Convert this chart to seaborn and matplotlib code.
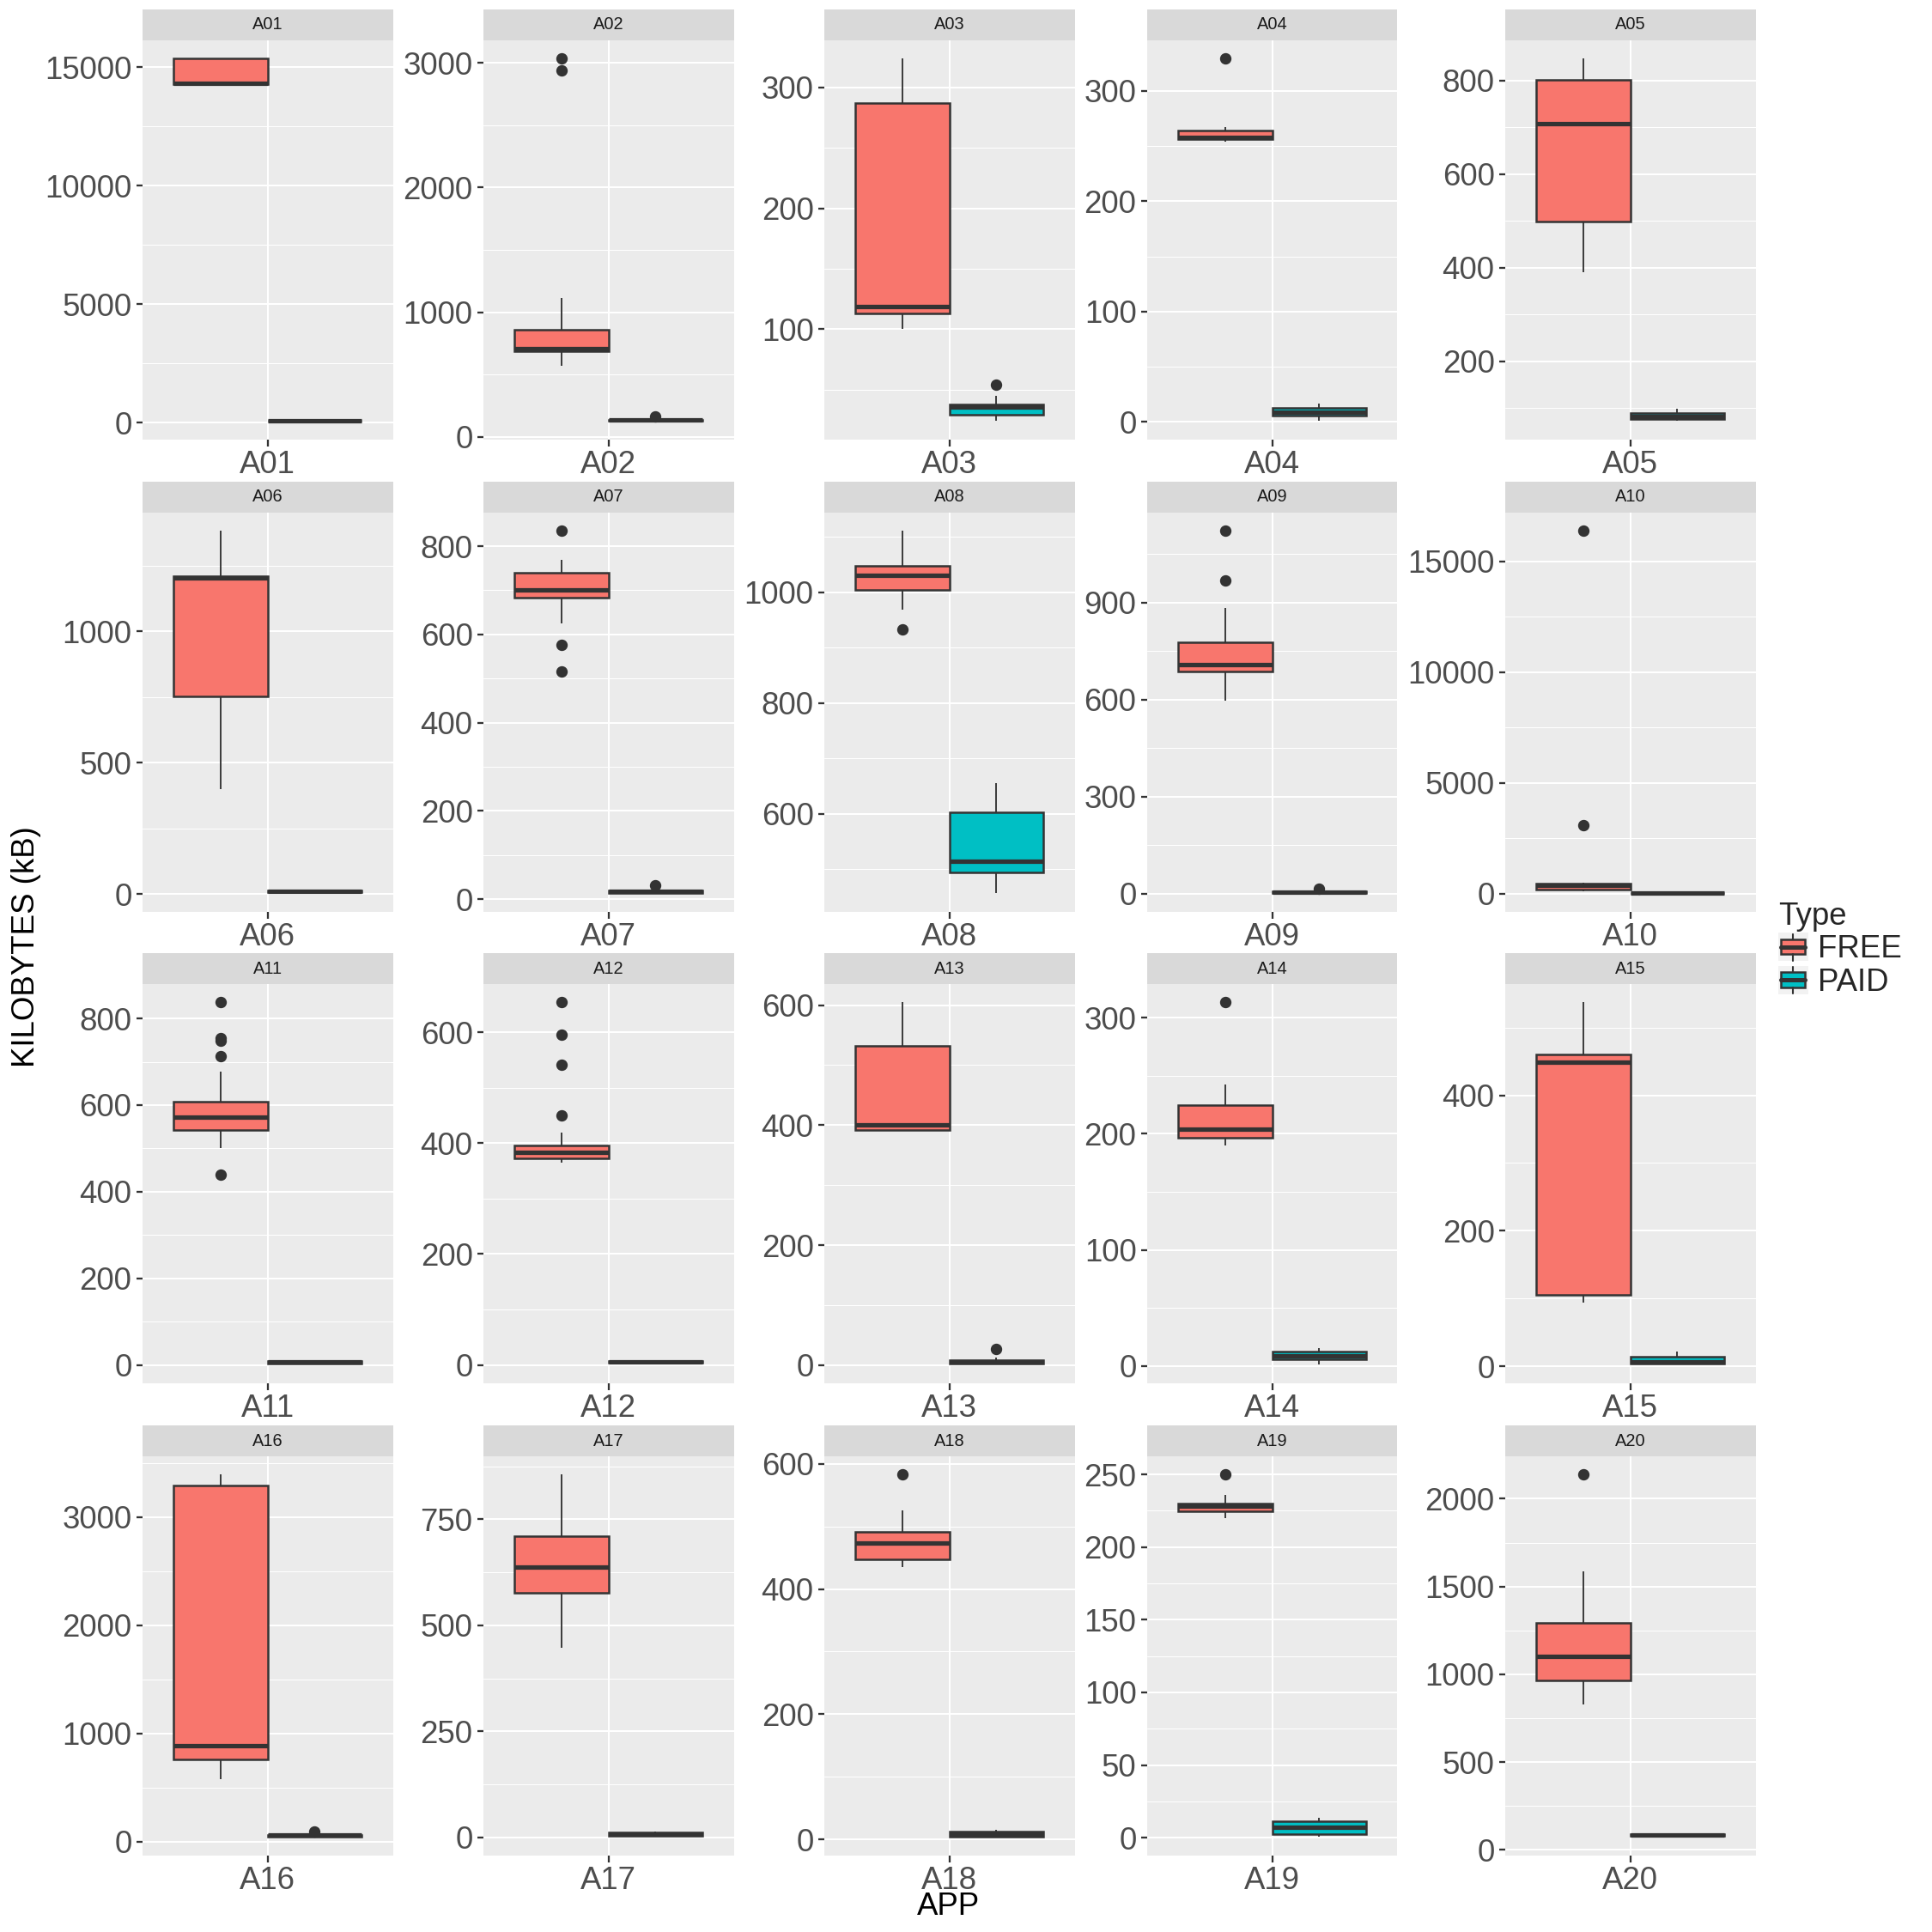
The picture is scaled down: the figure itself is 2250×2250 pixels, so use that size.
import matplotlib
matplotlib.use("Agg")
import pandas as pd
import matplotlib.pyplot as plt
import seaborn as sns
from matplotlib.patches import Patch, Rectangle
from matplotlib.lines import Line2D
from matplotlib.legend_handler import HandlerBase
from matplotlib.ticker import FixedLocator, AutoMinorLocator, StrMethodFormatter

# Apps (facets) and the sizes, in kB
apps = ['A01', 'A02', 'A03', 'A04', 'A05', 'A06', 'A07', 'A08', 'A09', 'A10',
        'A11', 'A12', 'A13', 'A14', 'A15', 'A16', 'A17', 'A18', 'A19', 'A20']

free_kb = [
    [14290, 14290, 14290, 14310, 14330, 14900, 15360, 15360, 15360],
    [571, 620, 660, 685, 690, 700, 705, 760, 820, 862, 1113, 2943, 3037],
    [100, 108, 113, 116, 118.5, 200, 287, 305, 324],
    [253.8, 255, 256.3, 257, 258, 260, 263.8, 267.4, 329.5],
    [390, 450, 499, 600, 708, 760, 800.7, 820, 846.6],
    [400, 600, 752, 1000, 1205, 1208, 1212, 1300, 1384],
    [516, 576, 626, 684, 690, 695, 701, 715, 730, 740, 755, 769, 835],
    [933, 968, 1004, 1015, 1030, 1040, 1048, 1080, 1110.7],
    [597, 640, 670, 687, 695, 700, 707, 730, 760, 777, 883, 968, 1121.7],
    [100, 130, 150, 166, 250, 320, 360, 400, 440, 471, 512, 3102, 16385],
    [439, 500.7, 515, 525, 535, 543, 550, 556, 562, 567, 571.6, 580, 588, 595,
     602, 608.5, 678, 713.5, 748, 755, 837.6],
    [364.5, 366, 368, 370, 372, 373, 375, 377, 379, 381, 383, 385, 388, 390,
     393, 395, 418.3, 450, 540.7, 595, 654],
    [391, 391.5, 392.3, 396, 400, 460, 532, 570, 605],
    [189.7, 193, 196.6, 200, 203.7, 212, 224.6, 242.6, 313.5],
    [94, 100, 106, 300, 449.4, 455, 460.3, 500, 537.4],
    [578, 700, 760, 820, 888, 2000, 3289, 3350, 3395],
    [447, 520, 576.6, 610, 637, 680, 711, 780, 856],
    [435, 441, 447.6, 460, 474, 483, 491, 525.4, 583],
    [220, 222, 224.7, 226.5, 228.5, 229.2, 229.9, 235.7, 250],
    [828, 900, 964, 1050, 1101, 1200, 1292, 1586, 2138.6],
]

paid_kb = [
    [62, 63, 64, 65, 66, 67, 68, 69, 70],
    [125, 126, 126, 130, 133, 135, 138, 140, 162],
    [24, 27, 29, 33, 35.5, 37, 38, 44.7, 54],
    [0.5, 3, 5.8, 7, 8.6, 10, 12.3, 14, 16.4],
    [72.5, 75, 77.4, 80, 82.6, 86, 90.5, 95, 99],
    [2.5, 6, 8, 9, 10, 11, 12, 13, 14],
    [13.3, 14, 15, 16, 17, 18, 19, 21, 31],
    [456, 480, 494.5, 505, 514, 560, 603, 630, 655],
    [1, 2, 3, 4, 5, 6, 7, 9, 16],
    [15, 18, 20, 24, 28, 30, 33, 36, 40],
    [0.5, 2, 4, 5, 6.4, 7.5, 9, 10, 11],
    [0.5, 2, 4, 5, 6, 7, 8, 8.5, 9],
    [0.6, 1.5, 3, 4, 6, 7, 8, 12, 27.6],
    [1, 4, 5.8, 7, 8.5, 10, 12.4, 14, 15],
    [2.3, 3, 3.6, 5, 6.8, 10, 14.5, 18, 21.8],
    [43, 46, 50, 55, 58, 60, 62, 66, 97],
    [0.9, 3, 4.6, 6, 7.75, 9, 11, 12, 13],
    [3.8, 4.5, 5, 7, 9, 11, 13, 14, 15],
    [0.5, 1.5, 2.7, 5, 7, 9, 11.3, 12.5, 13.6],
    [73, 78, 80, 82, 84, 86, 88, 90, 92],
]

# y axis breaks of each free-scaled panel
y_breaks = [
    [0, 5000, 10000, 15000], [0, 1000, 2000, 3000], [100, 200, 300],
    [0, 100, 200, 300], [200, 400, 600, 800], [0, 500, 1000],
    [0, 200, 400, 600, 800], [600, 800, 1000], [0, 300, 600, 900],
    [0, 5000, 10000, 15000], [0, 200, 400, 600, 800], [0, 200, 400, 600],
    [0, 200, 400, 600], [0, 100, 200, 300], [0, 200, 400],
    [0, 1000, 2000, 3000], [0, 250, 500, 750], [0, 200, 400, 600],
    [0, 50, 100, 150, 200, 250], [0, 500, 1000, 1500, 2000],
]

types = ['FREE', 'PAID']
colors = {'FREE': '#F8766D', 'PAID': '#00BFC4'}

rows = []
for app, f, p in zip(apps, free_kb, paid_kb):
    rows += [(app, 'FREE', v) for v in f]
    rows += [(app, 'PAID', v) for v in p]
df = pd.DataFrame(rows, columns=['APP', 'Type', 'KB'])

sns.set_style("white")
plt.rcParams['font.family'] = ['Liberation Sans', 'DejaVu Sans']

W = 2250
fig = plt.figure(figsize=(7.5, 7.5), dpi=300)

col_left = [166, 563, 960, 1336, 1753]
panel_top = [47, 597, 1146, 1696]
pw, ph, sh = 291.5, 464.5, 36

for i, app in enumerate(apps):
    r, c = divmod(i, 5)
    x0 = col_left[c] / W
    ax = fig.add_axes([x0, 1 - (panel_top[r] + ph) / W, pw / W, ph / W])
    st = fig.add_axes([x0, 1 - panel_top[r] / W, pw / W, sh / W])

    sns.boxplot(data=df[df.APP == app], x='APP', y='KB', hue='Type',
                hue_order=types, palette=colors, width=0.9, gap=0,
                saturation=1, linecolor='#333333', linewidth=0.6,
                showcaps=False, fliersize=2.2,
                flierprops=dict(marker='o', markerfacecolor='#333333',
                                markeredgecolor='#333333'),
                whiskerprops=dict(linewidth=0.45),
                medianprops=dict(linewidth=1.25),
                legend=False, ax=ax)

    ax.set_xlim(-0.6, 0.6)
    ax.set_xlabel('')
    ax.set_ylabel('')
    ax.set_facecolor('#EBEBEB')
    ax.yaxis.set_major_locator(FixedLocator(y_breaks[i]))
    ax.yaxis.set_minor_locator(AutoMinorLocator(2))
    ax.yaxis.set_major_formatter(StrMethodFormatter('{x:.0f}'))
    ax.set_axisbelow(True)
    ax.grid(which='major', color='white', linewidth=0.5)
    ax.grid(which='minor', axis='y', color='white', linewidth=0.25)
    ax.tick_params(which='major', length=1.8, width=0.55, color='#333333',
                   labelsize=8.8, labelcolor='#4D4D4D', pad=1.2,
                   left=True, bottom=True)
    ax.tick_params(which='minor', length=0)
    for s in ax.spines.values():
        s.set_visible(False)

    st.set_facecolor('#D9D9D9')
    st.set_xticks([])
    st.set_yticks([])
    for s in st.spines.values():
        s.set_visible(False)
    st.text(0.5, 0.5, app, ha='center', va='center', fontsize=4.8,
            color='#1A1A1A', transform=st.transAxes)

fig.text(30 / W, 1 - 1103 / W, 'KILOBYTES (kB)', rotation=90,
         ha='center', va='center', fontsize=8.8, color='black')
fig.text(1104 / W, 1 - 2221 / W, 'APP', ha='center', va='center',
         fontsize=8.8, color='black')


class BoxKey(HandlerBase):
    def create_artists(self, legend, orig, xd, yd, w, h, fs, trans):
        x, y = -xd, -yd
        bg = Rectangle((x, y), w, h, fc='#F2F2F2', ec='none', transform=trans)
        box = Rectangle((x + 0.1 * w, y + 0.24 * h), 0.8 * w, 0.54 * h,
                        fc=orig.get_facecolor(), ec='#333333', lw=0.6,
                        transform=trans)
        lo = Line2D([x + 0.5 * w] * 2, [y + 0.02 * h, y + 0.24 * h],
                    color='#333333', lw=0.5, transform=trans)
        hi = Line2D([x + 0.5 * w] * 2, [y + 0.78 * h, y + 0.96 * h],
                    color='#333333', lw=0.5, transform=trans)
        med = Line2D([x + 0.1 * w, x + 0.9 * w], [y + 0.51 * h] * 2,
                     color='#333333', lw=1.2, transform=trans)
        return [bg, box, lo, hi, med]


handles = [Patch(facecolor=colors[t], edgecolor='#333333') for t in types]
fig.legend(handles, types, title='Type', loc='upper left',
           bbox_to_anchor=(2071 / W, 1 - 1050 / W), frameon=False,
           fontsize=8.8, title_fontsize=8.8, handlelength=0.95,
           handleheight=1.0, handletextpad=0.3, labelspacing=0.04,
           borderpad=0, borderaxespad=0, alignment='left',
           handler_map={Patch: BoxKey()})

fig.savefig('out.png', dpi=300)
